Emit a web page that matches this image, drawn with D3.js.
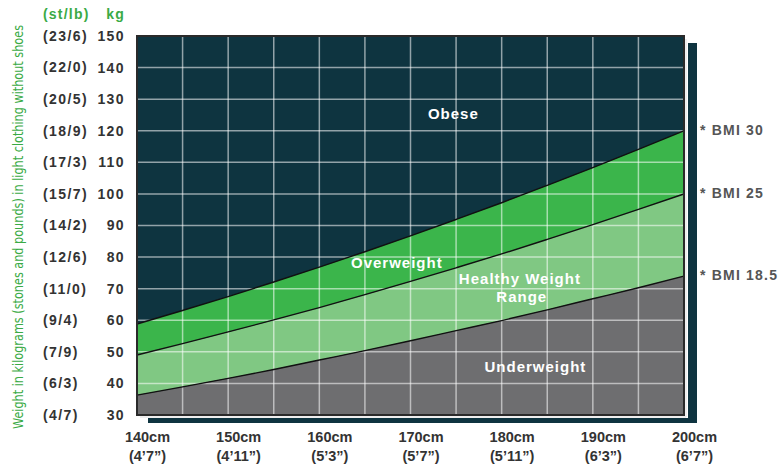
<!DOCTYPE html>
<html><head><meta charset="utf-8">
<script src="https://cdn.jsdelivr.net/npm/d3@7"></script>
<style>
body{margin:0;background:#fff;}
svg{display:block;font-family:"Liberation Sans",Arial,sans-serif;}
</style></head>
<body>
<svg id="chart" width="784" height="464"></svg>
<script>
// Heights (cm)
const heights = [140,145,150,155,160,165,170,175,180,185,190,195,200];
// Weight (kg) boundary curves
const bmi185 = [36.3,38.9,41.6,44.4,47.4,50.4,53.5,56.7,59.9,63.3,66.8,70.3,74.0];
const bmi25  = [49.0,52.6,56.3,60.1,64.0,68.1,72.3,76.6,81.0,85.6,90.3,95.1,100.0];
const bmi30  = [58.8,63.1,67.5,72.1,76.8,81.7,86.7,91.9,97.2,102.7,108.3,114.1,120.0];
// Tick labels
const kgTicks = [30,40,50,60,70,80,90,100,110,120,130,140,150];
const stoneLabels = ["(4/7)","(6/3)","(7/9)","(9/4)","(11/0)","(12/6)","(14/2)","(15/7)","(17/3)","(18/9)","(20/5)","(22/0)","(23/6)"];
const cmTicks = [140,150,160,170,180,190,200];
const feetLabels = ["(4’7”)","(4’11”)","(5’3”)","(5’7”)","(5’11”)","(6’3”)","(6’7”)"];
const bmiLabels = ["* BMI 30","* BMI 25","* BMI 18.5"];

const svg = d3.select("#chart");
const x = d3.scaleLinear().domain([140,200]).range([137,684]);
const y = d3.scaleLinear().domain([30,150]).range([415,36]);
const gridX = d3.range(140,201,5);

const C = {obese:"#0e3440", over:"#3bb54b", healthy:"#80c883", under:"#6e6e70"};

// shadow frame
svg.append("rect").attr("x",x(200)+4).attr("y",y(150)+7).attr("width",9).attr("height",y(30)-y(150)+1).attr("fill",C.obese);
svg.append("rect").attr("x",x(140)+11).attr("y",y(30)+3).attr("width",x(200)-x(140)+2).attr("height",5).attr("fill",C.obese);

// background (obese)
svg.append("rect").attr("x",x(140)).attr("y",y(150)).attr("width",x(200)-x(140)).attr("height",y(30)-y(150)).attr("fill",C.obese);

const idx = d3.range(heights.length);
const area = (lo,hi)=>d3.area().curve(d3.curveMonotoneX)
  .x(i=>x(heights[i])).y0(i=>y(lo(i))).y1(i=>y(hi(i)));
svg.append("path").datum(idx).attr("d",area(i=>bmi25[i],i=>bmi30[i])).attr("fill",C.over);
svg.append("path").datum(idx).attr("d",area(i=>bmi185[i],i=>bmi25[i])).attr("fill",C.healthy);
svg.append("path").datum(idx).attr("d",area(()=>30,i=>bmi185[i])).attr("fill",C.under);

// grid
const grid = svg.append("g").attr("stroke","#ffffff").attr("stroke-opacity",0.55).attr("stroke-width",1.5);
grid.selectAll(".gx").data(gridX.slice(1,-1)).join("line")
  .attr("x1",d=>x(d)).attr("x2",d=>x(d)).attr("y1",y(150)).attr("y2",y(30));
grid.selectAll(".gy").data(kgTicks.slice(1,-1)).join("line")
  .attr("y1",d=>y(d)).attr("y2",d=>y(d)).attr("x1",x(140)).attr("x2",x(200));

// boundary lines
const line = arr=>d3.line().curve(d3.curveMonotoneX).x((d,i)=>x(heights[i])).y(d=>y(d))(arr);
[bmi30,bmi25,bmi185].forEach(a=>svg.append("path").attr("d",line(a)).attr("fill","none").attr("stroke","#111").attr("stroke-width",1.4));

// border
svg.append("rect").attr("x",x(140)).attr("y",y(150)).attr("width",x(200)-x(140)).attr("height",y(30)-y(150))
  .attr("fill","none").attr("stroke","#2a2a2a").attr("stroke-width",2);
svg.append("line").attr("x1",x(200)+2).attr("x2",x(200)+2).attr("y1",y(150)+3).attr("y2",y(30)+2).attr("stroke","#e8e8e8").attr("stroke-width",1.5);
svg.append("line").attr("x1",x(140)+3).attr("x2",x(200)+2).attr("y1",y(30)+2).attr("y2",y(30)+2).attr("stroke","#e8e8e8").attr("stroke-width",1.5);

// y axis (kg)
const yAx = svg.append("g").attr("transform","translate(125,0)")
  .call(d3.axisLeft(y).tickValues(kgTicks).tickSize(0).tickPadding(0).tickFormat(d3.format("d")));
yAx.select(".domain").remove();
yAx.selectAll("text").attr("font-family","Liberation Sans, Arial, sans-serif").attr("font-size",14).attr("font-weight","bold").attr("fill","#333").attr("letter-spacing",1.4);
// stones
svg.append("g").selectAll("text").data(kgTicks).join("text")
  .attr("x",43).attr("y",d=>y(d)).attr("dy","0.35em").attr("font-size",14).attr("font-weight","bold").attr("fill","#333").attr("letter-spacing",1.4)
  .text((d,i)=>stoneLabels[i]);
svg.append("text").attr("x",43).attr("y",19).attr("font-size",14).attr("font-weight","bold").attr("fill","#3aaa45").attr("letter-spacing",1.2).text("(st/lb)");
svg.append("text").attr("x",125).attr("y",19).attr("text-anchor","end").attr("font-size",14).attr("font-weight","bold").attr("fill","#3aaa45").attr("letter-spacing",1.2).text("kg");

// y title
svg.append("text").attr("transform","translate(23,227) rotate(-90)").attr("text-anchor","middle")
  .attr("font-family","Liberation Sans Narrow, DejaVu Sans Condensed, sans-serif").attr("font-size",14.5).attr("fill","#3aaa45")
  .attr("textLength",404).attr("lengthAdjust","spacingAndGlyphs")
  .text("Weight in kilograms (stones and pounds) in light clothing without shoes");

// x axis
const xAx = svg.append("g").attr("transform","translate(10,"+(y(30))+")")
  .call(d3.axisBottom(x).tickValues(cmTicks).tickSize(0).tickPadding(0).tickFormat(d=>d+"cm"));
xAx.select(".domain").remove();
xAx.selectAll("text").attr("font-family","Liberation Sans, Arial, sans-serif").attr("font-size",14.5).attr("font-weight","bold").attr("fill","#333").attr("dy",null).attr("y",27);
xAx.selectAll(".tick").append("text").attr("y",46).attr("text-anchor","middle").attr("font-size",14.5).attr("font-weight","bold").attr("fill","#333")
  .text((d,i)=>feetLabels[i]);

// BMI labels
const ends = [bmi30[bmi30.length-1],bmi25[bmi25.length-1],bmi185[bmi185.length-1]];
svg.append("g").selectAll("text").data(ends).join("text")
  .attr("x",700).attr("y",d=>y(d)-1).attr("dy","0.35em").attr("font-size",14).attr("font-weight","bold").attr("fill","#555").attr("letter-spacing",1.2)
  .text((d,i)=>bmiLabels[i]);

// region labels
const regionLabels = [
  {t:"Obese",h:174.7,w:125.3},
  {t:"Overweight",h:168.5,w:78.1},
  {t:"Healthy Weight",h:182,w:73.1},
  {t:"Range",h:182.2,w:67.4},
  {t:"Underweight",h:183.7,w:45.2}
];
svg.append("g").selectAll("text").data(regionLabels).join("text")
  .attr("x",d=>x(d.h)).attr("y",d=>y(d.w)).attr("dy","0.35em").attr("text-anchor","middle")
  .attr("font-size",15).attr("font-weight","bold").attr("fill","#fff").attr("letter-spacing",1).text(d=>d.t);
</script>
</body></html>
